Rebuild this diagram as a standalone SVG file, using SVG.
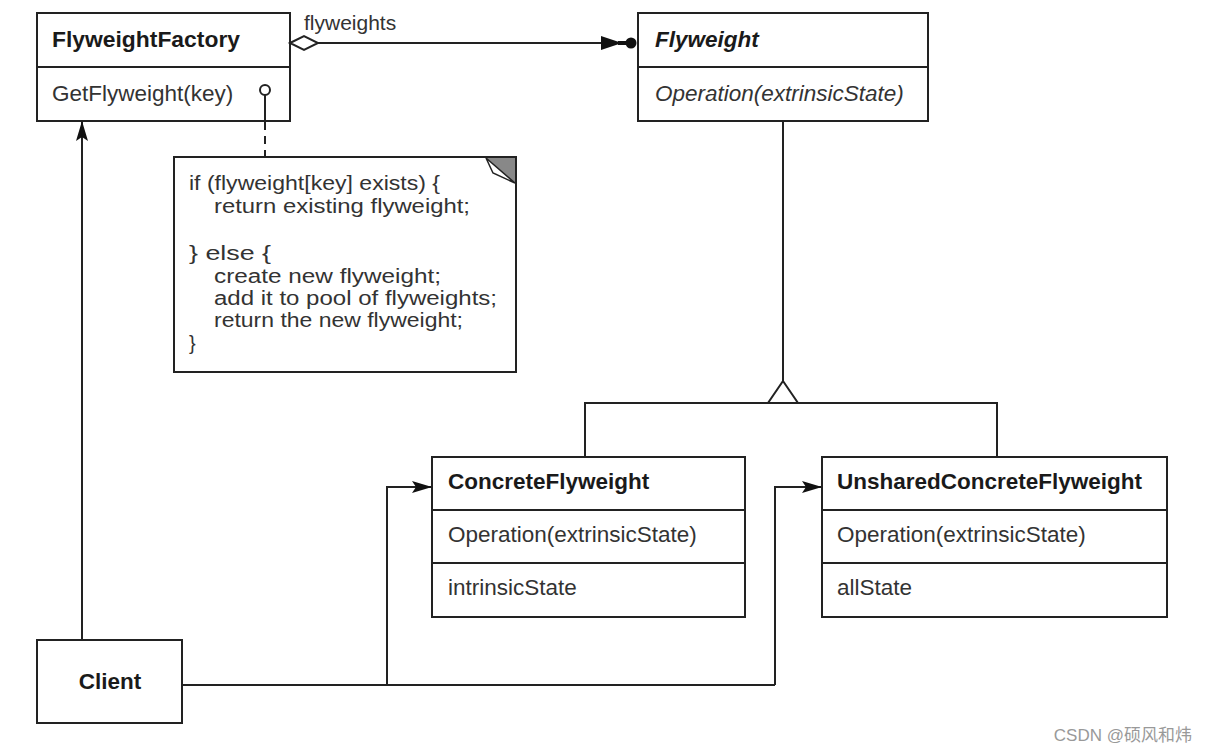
<svg xmlns="http://www.w3.org/2000/svg" width="1208" height="753" viewBox="0 0 1208 753">
<style>
.box{fill:#fff;stroke:#222;stroke-width:2}
.ln{fill:none;stroke:#222;stroke-width:2}
.t{font-family:"Liberation Sans",Arial,sans-serif;font-size:22.5px;fill:#333}
.b{font-weight:bold;fill:#1a1a1a}
.i{font-style:italic}
.n{font-family:"Liberation Sans",Arial,sans-serif;font-size:20px;fill:#333}
</style>
<defs>
<marker id="arr" viewBox="0 0 20 14" refX="20" refY="7" markerWidth="20" markerHeight="14" markerUnits="userSpaceOnUse" orient="auto">
<path d="M0,1 L20,7 L0,13 L4,7 Z" fill="#111"/>
</marker>
</defs>
<rect width="1208" height="753" fill="#fff"/>
<g id="FlyweightFactory">
<rect class="box" x="37" y="13" width="253" height="108"/>
<line class="ln" x1="37" y1="67" x2="290" y2="67"/>
<text class="t b" x="52" y="47" textLength="188" lengthAdjust="spacingAndGlyphs">FlyweightFactory</text>
<text class="t" x="52" y="101">GetFlyweight(key)</text>
</g>
<g id="Flyweight">
<rect class="box" x="638" y="13" width="290" height="108"/>
<line class="ln" x1="638" y1="67" x2="928" y2="67"/>
<text class="t b i" x="655" y="47">Flyweight</text>
<text class="t i" x="655" y="101">Operation(extrinsicState)</text>
</g>
<g id="flyweightsLabel">
<text class="t" x="304" y="30" style="font-size:21px">flyweights</text>
</g>
<g id="Note">
<path class="box" d="M174,157 L516,157 L516,372 L174,372 Z"/>
<polygon points="486,158 515,158 515,183" fill="#888"/>
<polygon points="486,158 493,173 515,183" fill="#fff" stroke="#222" stroke-width="1.5"/>
<text class="n" x="189" y="190" textLength="251" lengthAdjust="spacingAndGlyphs">if (flyweight[key] exists) {</text>
<text class="n" x="214" y="213" textLength="256" lengthAdjust="spacingAndGlyphs">return existing flyweight;</text>
<text class="n" x="189" y="260" textLength="82" lengthAdjust="spacingAndGlyphs">} else {</text>
<text class="n" x="214" y="283" textLength="227" lengthAdjust="spacingAndGlyphs">create new flyweight;</text>
<text class="n" x="214" y="305" textLength="283" lengthAdjust="spacingAndGlyphs">add it to pool of flyweights;</text>
<text class="n" x="214" y="327" textLength="249" lengthAdjust="spacingAndGlyphs">return the new flyweight;</text>
<text class="n" x="189" y="350">}</text>
</g>
<g id="ConcreteFlyweight">
<rect class="box" x="432" y="457" width="313" height="160"/>
<line class="ln" x1="432" y1="510" x2="745" y2="510"/>
<line class="ln" x1="432" y1="563" x2="745" y2="563"/>
<text class="t b" x="448" y="489">ConcreteFlyweight</text>
<text class="t" x="448" y="542">Operation(extrinsicState)</text>
<text class="t" x="448" y="595">intrinsicState</text>
</g>
<g id="UnsharedConcreteFlyweight">
<rect class="box" x="822" y="457" width="345" height="160"/>
<line class="ln" x1="822" y1="510" x2="1167" y2="510"/>
<line class="ln" x1="822" y1="563" x2="1167" y2="563"/>
<text class="t b" x="837" y="489">UnsharedConcreteFlyweight</text>
<text class="t" x="837" y="542">Operation(extrinsicState)</text>
<text class="t" x="837" y="595">allState</text>
</g>
<g id="Client">
<rect class="box" x="37" y="640" width="145" height="83"/>
<text class="t b" x="110" y="689" text-anchor="middle">Client</text>
</g>
<g id="connectors">
<line class="ln" x1="318" y1="43" x2="602" y2="43"/>
<polygon points="290,43 304,36 318,43 304,50" fill="#fff" stroke="#222" stroke-width="2"/>
<path d="M601,36 L622,43 L601,50 Z" fill="#111"/>
<line x1="618" y1="43" x2="632" y2="43" stroke="#111" stroke-width="4"/>
<circle cx="631" cy="43" r="5.5" fill="#111"/>
<circle cx="265" cy="90" r="5" fill="#fff" stroke="#222" stroke-width="2"/>
<line class="ln" x1="265" y1="95" x2="265" y2="121"/>
<line class="ln" x1="265" y1="122" x2="265" y2="157" stroke-dasharray="8,6"/>
<line class="ln" x1="783" y1="121" x2="783" y2="381"/>
<polygon points="783,381 798,403 768,403" fill="#fff" stroke="#222" stroke-width="2"/>
<polyline class="ln" points="585,457 585,403 997,403 997,457"/>
<line class="ln" x1="82" y1="640" x2="82" y2="121" marker-end="url(#arr)"/>
<polyline class="ln" points="182,685 775,685"/>
<polyline class="ln" points="387,685 387,487 432,487" marker-end="url(#arr)"/>
<polyline class="ln" points="775,685 775,487 822,487" marker-end="url(#arr)"/>
</g>
<text x="1192" y="741" text-anchor="end" font-family="'Liberation Sans','Noto Sans CJK SC',sans-serif" font-size="17" fill="#999">CSDN @硕风和炜</text>
</svg>
